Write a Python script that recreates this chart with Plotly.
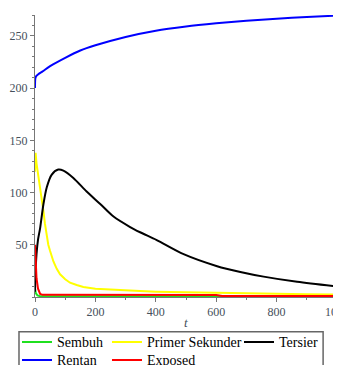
import plotly.graph_objects as go

# ---- data ----
t_rentan = [0, 1, 3, 10, 25, 50, 100, 150, 200, 300, 400, 500, 600, 700, 800, 900, 1000]
rentan = [200, 209, 211, 213, 216, 221, 229, 236, 241, 249, 255, 259, 262, 264.5, 266.5, 268, 269.5]

t_primer = [0, 2, 5, 11, 17, 22, 28, 33, 39, 44, 50, 61, 72, 83, 100, 116, 138, 160, 200, 238,
            300, 348, 400, 500, 600, 700, 800, 900, 1000]
primer = [120, 138, 128, 117, 106, 95, 82, 70, 58, 50, 44, 34, 27, 21.7, 17, 13.7, 11.5, 9.6, 8, 7.3,
          6.3, 5.7, 5.1, 4.4, 3.9, 3.4, 3.0, 2.6, 2.4]

t_tersier = [0, 2, 5, 10, 17, 28, 39, 55, 77, 94, 127, 171, 216, 260, 315, 348, 403, 492, 603,
             680, 757, 868, 1000]
tersier = [5, 25, 41, 55, 66, 89, 105, 117, 122, 121, 114, 101, 89, 77, 67, 62, 54.5, 41, 29.5,
           24, 19.5, 14.5, 10]

t_sembuh = [0, 3, 8, 15, 100, 300, 600, 1000]
sembuh = [8, 3.5, 1.5, 1.0, 0.8, 0.6, 0.5, 0.5]

t_exposed = [0, 2, 5, 10, 17, 25, 300, 600, 620, 1000]
exposed = [50, 35, 18, 8, 3, 2.1, 2.0, 1.9, 1.0, 1.0]

x_ticks = [0, 200, 400, 600, 800, 1000]
y_ticks = [50, 100, 150, 200, 250]

SERIF = "Liberation Serif"
TICK_COLOR = "#46505c"

series = [
    ("Sembuh", t_sembuh, sembuh, "#1fe01f", "legend", "linear"),
    ("Primer Sekunder", t_primer, primer, "#ffff00", "legend2", "linear"),
    ("Tersier", t_tersier, tersier, "#000000", "legend3", "spline"),
    ("Rentan", t_rentan, rentan, "#0000ff", "legend4", "spline"),
    ("Exposed", t_exposed, exposed, "#ff0000", "legend5", "linear"),
]

fig = go.Figure()
for name, tx, vy, col, leg, shape in series:
    fig.add_trace(go.Scatter(x=tx, y=vy, mode="lines", name=name, showlegend=True,
                             line=dict(color=col, width=2, shape=shape, smoothing=0.8),
                             legend=leg))

row1_y = -0.104
row2_y = -0.168
legend_common = dict(bgcolor="rgba(0,0,0,0)", borderwidth=0, xanchor="left", yanchor="top",
                     font=dict(family=SERIF, size=14, color="#000000"))

fig.update_layout(
    width=333, height=357,
    showlegend=True,
    margin=dict(l=27, r=4, t=7, b=68, autoexpand=False),
    paper_bgcolor="white", plot_bgcolor="white",
    font=dict(family=SERIF, size=12, color=TICK_COLOR),
    legend=dict(x=-0.0596, y=row1_y, **legend_common),
    legend2=dict(x=0.2384, y=row1_y, **legend_common),
    legend3=dict(x=0.6755, y=row1_y, **legend_common),
    legend4=dict(x=-0.0596, y=row2_y, **legend_common),
    legend5=dict(x=0.2384, y=row2_y, **legend_common),
    xaxis=dict(range=[0, 1000], tickmode="array", tickvals=x_ticks,
               ticks="outside", ticklen=4, tickcolor="#777777",
               showline=True, linecolor="#777777", linewidth=1,
               showgrid=False, zeroline=False, ticklabeloverflow="allow",
               tickfont=dict(family=SERIF, size=12, color=TICK_COLOR),
               minor=dict(dtick=100, tick0=0, ticks="outside", ticklen=2, tickcolor="#777777", showgrid=False)),
    yaxis=dict(range=[0, 270], tickmode="array", tickvals=y_ticks,
               ticks="outside", ticklen=4, tickcolor="#777777",
               showline=True, linecolor="#777777", linewidth=1,
               showgrid=False, zeroline=False,
               tickfont=dict(family=SERIF, size=12, color=TICK_COLOR),
               minor=dict(dtick=10, tick0=0, ticks="outside", ticklen=2, tickcolor="#777777", showgrid=False)),
    annotations=[dict(text="<i>t</i>", xref="paper", yref="paper", x=0.5, y=-0.089,
                      xanchor="center", yanchor="middle", showarrow=False,
                      font=dict(family=SERIF, size=13, color=TICK_COLOR))],
    shapes=[dict(type="rect", xref="paper", yref="paper",
                 x0=-0.053, x1=0.954, y0=-0.30, y1=-0.123,
                 line=dict(color="#666666", width=1.5), fillcolor="rgba(0,0,0,0)")],
)

fig.write_html("out.html")
